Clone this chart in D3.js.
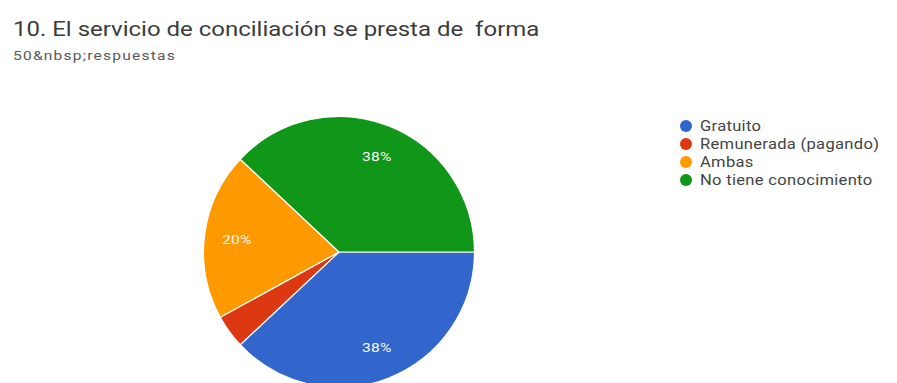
<!DOCTYPE html>
<html>
<head>
<meta charset="utf-8">
<script src="https://cdn.jsdelivr.net/npm/d3@7"></script>
<style>
  html, body { margin: 0; padding: 0; background: #fff; }
  svg { display: block; font-family: Roboto, "Noto Sans", Arial, sans-serif; }
</style>
</head>
<body>
<svg id="chart" width="897" height="383"></svg>
<script>
// Survey answers (50 responses)
const categories = ["Gratuito", "Remunerada (pagando)", "Ambas", "No tiene conocimiento"];
const counts = [19, 2, 10, 19];
const colors = ["#3366cc", "#dc3912", "#ff9900", "#109618"];
const title = "10. El servicio de conciliación se presta de\u00a0 forma";
const subtitle = "50&nbsp;respuestas";

// Text in this layout uses a horizontally widened face
const widen = 1.2;

const svg = d3.select("#chart");
const total = d3.sum(counts);
const data = categories.map((c, i) => ({ name: c, value: counts[i], color: colors[i] }));

svg.append("g").attr("transform", `translate(13,36) scale(${widen},1)`)
  .append("text")
  .attr("font-size", 20).attr("letter-spacing", 0)
  .attr("fill", "#3c3c3c")
  .text(title);

svg.append("g").attr("transform", `translate(13,60) scale(${widen},1)`)
  .append("text")
  .attr("font-size", 13).attr("letter-spacing", 1)
  .attr("fill", "#5a5a5a")
  .text(subtitle);

// Pie starts at 3 o'clock and runs clockwise
const cx = 339, cy = 252, r = 135.5;
const pie = d3.pie().value(d => d.value).sort(null)
  .startAngle(Math.PI / 2).endAngle(Math.PI / 2 + 2 * Math.PI);
const arc = d3.arc().innerRadius(0).outerRadius(r);
const labelArc = d3.arc().innerRadius(r * 0.76).outerRadius(r * 0.76);

const g = svg.append("g").attr("transform", `translate(${cx},${cy})`);
const arcs = pie(data);

g.selectAll("path.slice").data(arcs).join("path")
  .attr("class", "slice")
  .attr("d", arc)
  .attr("fill", d => d.data.color)
  .attr("stroke", "#fff").attr("stroke-width", 1.2);

g.selectAll("g.pct").data(arcs.filter(d => d.data.value / total >= 0.05)).join("g")
  .attr("class", "pct")
  .attr("transform", d => `translate(${labelArc.centroid(d)}) scale(${widen},1)`)
  .append("text")
  .attr("text-anchor", "middle").attr("dy", "0.35em")
  .attr("font-size", 13).attr("letter-spacing", 0.2)
  .attr("fill", "#f4f4f4")
  .text(d => Math.round(d.data.value / total * 100) + "%");

// Legend
const legend = svg.append("g").attr("transform", "translate(686,126)");
const item = legend.selectAll("g").data(data).join("g")
  .attr("transform", (d, i) => `translate(0,${i * 18})`);
item.append("circle").attr("r", 6).attr("fill", d => d.color);
item.append("g").attr("transform", `translate(14,0) scale(${widen},1)`)
  .append("text").attr("dy", "0.35em")
  .attr("font-size", 13.8).attr("letter-spacing", 0.25)
  .attr("fill", "#444")
  .text(d => d.name);
</script>
</body>
</html>
